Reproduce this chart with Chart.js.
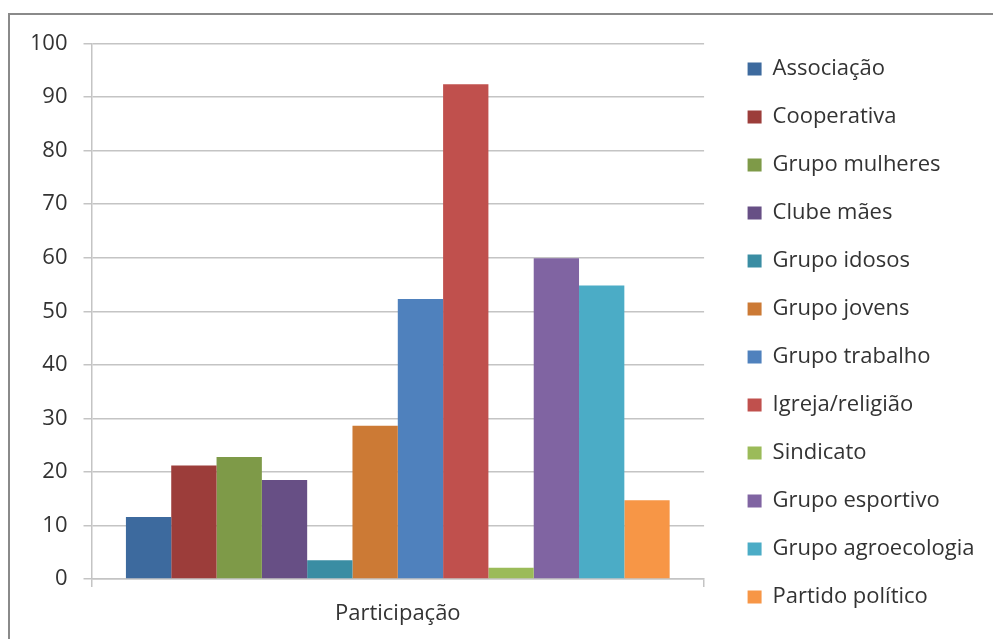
<!DOCTYPE html>
<html>
<head>
<meta charset="utf-8">
<script src="https://cdn.jsdelivr.net/npm/chart.js@4"></script>
<style>
  html, body { margin: 0; padding: 0; background: #fff; }
  #wrap { position: absolute; left: 0; top: 0; width: 993px; height: 639px; }
  #frame { position: absolute; left: 8px; top: 13px; width: 1000px; height: 700px;
           border-left: 2px solid #8a8a8a; border-top: 2px solid #8a8a8a; }
</style>
</head>
<body>
<div id="frame"></div>
<div id="wrap"><canvas id="grafico"></canvas></div>
<script>
// Categoria e séries
var categorias = ['Participação'];
var grupos = ['Associação', 'Cooperativa', 'Grupo mulheres', 'Clube mães', 'Grupo idosos', 'Grupo jovens',
              'Grupo trabalho', 'Igreja/religião', 'Sindicato', 'Grupo esportivo', 'Grupo agroecologia', 'Partido político'];
var valores = [11.6, 21.2, 22.8, 18.5, 3.5, 28.6, 52.3, 92.4, 2.1, 59.9, 54.8, 14.7];
var cores = ['#3D6A9E', '#9C3D3A', '#7E9A48', '#674F85', '#3A8DA3', '#CC7A35',
             '#4F81BD', '#C0504D', '#9BBB59', '#8064A2', '#4BACC6', '#F79646'];
var ticksY = [0, 10, 20, 30, 40, 50, 60, 70, 80, 90, 100];

var fonte = { family: '"Open Sans", sans-serif', size: 22 };
var corTexto = '#333333';
var corGrade = '#c4c4c4';

var conjuntos = grupos.map(function(nome, i) {
    return {
        label: nome,
        data: [valores[i]],
        backgroundColor: cores[i],
        borderWidth: 0,
        categoryPercentage: 0.8876,
        barPercentage: 1.0
    };
});

new Chart(document.getElementById('grafico').getContext('2d'), {
    type: 'bar',
    data: { labels: categorias, datasets: conjuntos },
    options: {
        responsive: true,
        maintainAspectRatio: false,
        animation: false,
        layout: { padding: { left: 32.5, top: 32, right: 8.5, bottom: 0 } },
        plugins: {
            legend: {
                position: 'right',
                align: 'start',
                maxWidth: 400,
                labels: { font: fonte, color: corTexto, boxWidth: 14, boxHeight: 13, padding: 26 }
            },
            tooltip: { enabled: false }
        },
        scales: {
            x: {
                grid: { display: true, drawOnChartArea: false, color: corGrade, tickLength: 8, lineWidth: 1.5 },
                border: { color: corGrade, width: 1.5 },
                ticks: { font: fonte, color: corTexto, padding: 14 },
                afterFit: function(s) { s.height = 60; }
            },
            y: {
                min: 0,
                max: 100,
                afterBuildTicks: function(s) { s.ticks = ticksY.map(function(v) { return { value: v }; }); },
                grid: { color: corGrade, tickLength: 8, lineWidth: 1.5 },
                border: { color: corGrade, width: 1.5 },
                ticks: { font: fonte, color: corTexto, padding: 16 },
                afterFit: function(s) { s.width = 59; }
            },
            topo: {
                type: 'linear', position: 'top',
                grid: { display: false }, border: { display: false }, ticks: { display: false },
                afterFit: function(s) { s.height = 11.5; }
            },
            direita: {
                type: 'linear', position: 'right',
                grid: { display: false }, border: { display: false }, ticks: { display: false },
                afterFit: function(s) { s.width = 17.5; }
            }
        }
    }
});
</script>
</body>
</html>
